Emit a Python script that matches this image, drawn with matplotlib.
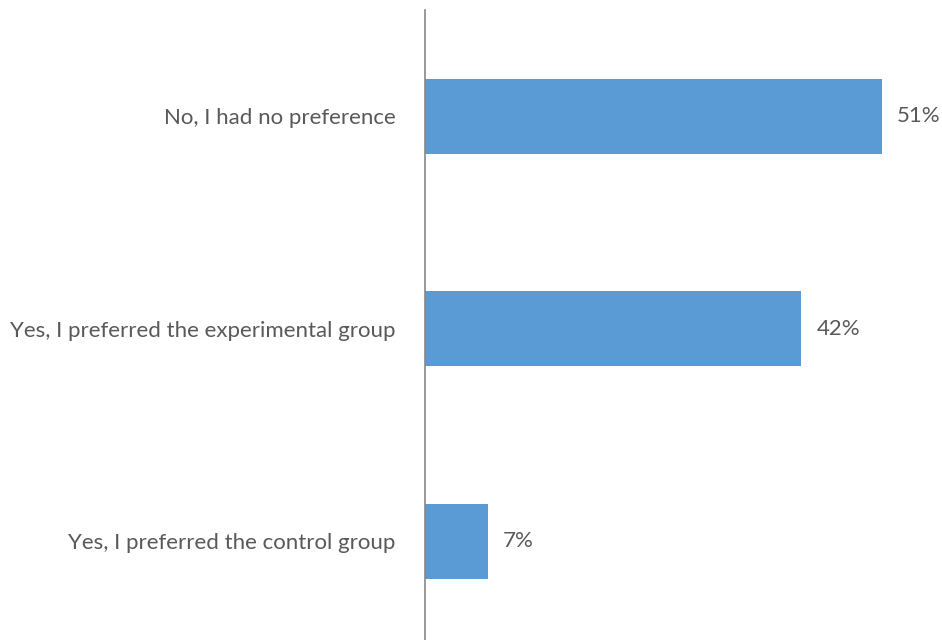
import matplotlib.pyplot as plt

categories = ["Yes, I preferred the control group",
              "Yes, I preferred the experimental group",
              "No, I had no preference"]
values = [7, 42, 51]

plt.rcParams['font.family'] = ['Lato', 'DejaVu Sans']

fig = plt.figure(figsize=(9.42, 6.4), dpi=100)
ax = fig.add_axes([0.4512, -0.0121, 0.5421, 0.9965])

pos = range(len(values))
ax.barh(pos, values, height=0.353, color='#5B9BD5')
for p, v in zip(pos, values):
    ax.text(v + 1.7, p, f"{v}%", va='center', ha='left', fontsize=16, color='#595959')

ax.set_xlim(0, 57)
ax.set_ylim(-0.5, 2.5)
ax.set_yticks(list(pos))
ax.set_yticklabels(categories, fontsize=16, color='#595959')
ax.tick_params(axis='y', length=0, pad=21)
ax.set_xticks([])
for side in ['top', 'right', 'bottom']:
    ax.spines[side].set_visible(False)
ax.spines['left'].set_color('#888888')
ax.spines['left'].set_linewidth(1.2)

fig.savefig("out.png", dpi=100)
